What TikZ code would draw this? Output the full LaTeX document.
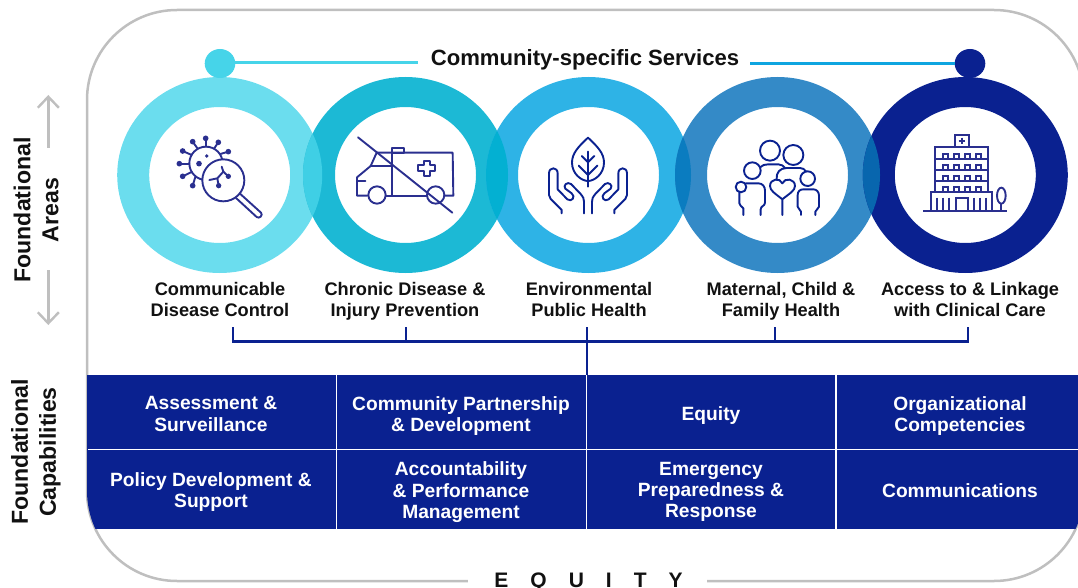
\documentclass[tikz,border=0pt]{standalone}
\usepackage{fontspec}
\setmainfont{Liberation Sans}
\usetikzlibrary{arrows.meta}
\definecolor{navy}{HTML}{0A2190}
\definecolor{icona}{HTML}{2A2F8F}
\definecolor{cA}{HTML}{6BDDEE}
\definecolor{cB}{HTML}{1CB9D5}
\definecolor{cC}{HTML}{2EB3E6}
\definecolor{cD}{HTML}{348AC7}
\definecolor{lAB}{HTML}{3FCFE5}
\definecolor{lBC}{HTML}{03B0D2}
\definecolor{lCD}{HTML}{0A7CC0}
\definecolor{lDE}{HTML}{0866AE}
\definecolor{frameg}{HTML}{BFBFBF}
\definecolor{dotA}{HTML}{46D4E9}
\definecolor{lineB}{HTML}{0FA5E0}
\definecolor{ink}{HTML}{111111}
\tikzset{
 x=1pt,y=-1pt,
 struts/.style={execute at begin node={\rule{0pt}{14pt}},execute at end node={\rule[-4.5pt]{0pt}{4.5pt}}},
 lab/.style={struts,font=\bfseries\fontsize{18.2}{21}\selectfont,align=center,text=ink,inner sep=0pt},
 capb/.style={struts,font=\bfseries\fontsize{19.2}{21.3}\selectfont,align=center,text=white,inner sep=0pt},
 side/.style={font=\bfseries\fontsize{23.1}{28}\selectfont,align=center,rotate=90,text=ink,inner sep=0pt},
 ico/.style={line width=1.9pt,line cap=round,line join=round},
 tree/.style={navy,line width=2.3pt},
 sidearrow/.style={frameg,line width=2.4pt,-{Straight Barb[length=11pt,width=21pt,line width=2.4pt]}},
}
\newcommand{\ringat}[3]{\fill[#3,even odd rule] (#1,#2) ellipse [x radius=102.5,y radius=98] (#1,#2) ellipse [x radius=70.5,y radius=68];}
\newcommand{\lensat}[3]{\begin{scope}\clip (#2,175) ellipse [x radius=102.5,y radius=98];\fill[#3] (#1,175) ellipse [x radius=102.5,y radius=98];\end{scope}}
\begin{document}
\begin{tikzpicture}
\useasboundingbox (0,0) rectangle (1078,588);
\clip (0,0) rectangle (1078,588);
% frame
\draw[frameg,line width=2.5pt,rounded corners=90pt] (87,10) rectangle (1084,581);
\fill[white] (468,575) rectangle (707,588);
% capability band
\begin{scope}
\clip[rounded corners=90pt] (87,10) rectangle (1084,581);
\fill[navy] (87,375) rectangle (1084,529);
\end{scope}
\draw[white,line width=1.4pt] (88,449.7) -- (1078,449.7);
\foreach \xx in {336.7,586.7,836}{\draw[white,line width=1.4pt] (\xx,375) -- (\xx,529);}
% rings
\ringat{219.7}{175}{cA}
\ringat{405.5}{175}{cB}
\ringat{588.5}{175}{cC}
\ringat{777.5}{175}{cD}
\ringat{965.3}{175}{navy}
\lensat{219.7}{405.5}{lAB}
\lensat{405.5}{588.5}{lBC}
\lensat{588.5}{777.5}{lCD}
\lensat{777.5}{965.3}{lDE}
% top line
\node[inner sep=0pt,text=ink,font=\bfseries\fontsize{22.1}{24}\selectfont] (svc) at (585,59.5) {Community-specific Services};
\fill[dotA] (220,63.5) ellipse [x radius=15.3,y radius=14.5];
\fill[navy] (970,63.5) ellipse [x radius=15.3,y radius=14.5];
\coordinate (dA) at (235,62.5);
\coordinate (dB) at (955,63.5);
\coordinate (lA) at (418,62.5);
\coordinate (lB) at (750,63.5);
\draw[dotA,line width=2.2pt] (dA) -- (lA);
\draw[lineB,line width=2.2pt] (lB) -- (dB);
% labels
\node[lab] (a1) at (220,301.75) {Communicable\\Disease Control};
\node[lab] (a2) at (405,301.75) {Chronic Disease \&\\Injury Prevention};
\node[lab] (a3) at (589,301.75) {Environmental\\Public Health};
\node[lab] (a4) at (781,301.75) {Maternal, Child \&\\Family Health};
\node[lab] (a5) at (970,301.75) {Access to \& Linkage\\with Clinical Care};
% tree
\coordinate (t1) at (232.7,327);
\coordinate (t2) at (406.3,327);
\coordinate (t3) at (586.7,327);
\coordinate (t4) at (775,327);
\coordinate (t5) at (968,327);
\coordinate (tb) at (586.7,375);
\draw[tree,line join=miter] (t1) -- (t1 |- 0,341.5) -- (t5 |- 0,341.5) -- (t5);
\draw[tree] (t2) -- (t2 |- 0,341.5);
\draw[tree] (t4) -- (t4 |- 0,341.5);
\draw[tree] (t3) -- (tb);
% capabilities
\node[capb] (c1) at (211,416) {Assessment \&\\Surveillance};
\node[capb] (c2) at (461,416) {Community Partnership\\\& Development};
\node[capb] (c3) at (711,415.5) {Equity};
\node[capb] (c4) at (960,416) {Organizational\\Competencies};
\node[capb] (c5) at (211,492.6) {Policy Development \&\\Support};
\node[capb] (c6) at (461,492.3) {Accountability\\\& Performance\\Management};
\node[capb] (c7) at (711,492.3) {Emergency\\Preparedness \&\\Response};
\node[capb] (c8) at (960,493) {Communications};
% side
\node[side] (s1) at (36,210) {Foundational\\Areas};
\node[side] (s2) at (36,452) {Foundational\\Capabilities};
\coordinate (u1) at (48.3,148);
\coordinate (u2) at (48.3,95);
\coordinate (v1) at (48.3,270);
\coordinate (v2) at (48.3,325);
\draw[sidearrow] (u1) -- (u2);
\draw[sidearrow] (v1) -- (v2);
% equity
\node[inner sep=0pt,font=\bfseries\fontsize{21}{22}\selectfont,text=ink] (eq) at (588.5,582.5) {E\hspace{22pt}Q\hspace{22pt}U\hspace{22pt}I\hspace{22pt}T\hspace{22pt}Y};
% icon 1
\begin{scope}[shift={(130,100)},scale=1/3,ico,icona]
\foreach \ax/\ay/\bx/\by in {227/115/227/140,265/127/252/146,295/155/271/162,188/125/203/146,158/153/185/165,148/191/178/191,158/229/185/216,188/257/196/231}{
 \draw (\bx,\by) -- (\ax,\ay);
 \fill (\ax,\ay) circle [radius=8.5];
}
\draw (228,190) circle [radius=50];
\fill (207,191) circle [radius=8.5];
\fill (230,168) circle [radius=5.5];
\draw[fill=white] (280,241) circle [radius=63];
\draw (330,281) -- (393,338) .. controls (400,345) and (388,358) .. (380,351) -- (318,294);
\draw (238,240) -- (262,235) -- (280,215) -- (275,200);
\draw (280,215) -- (295,229);
\draw (262,235) -- (266,257);
\fill (295,229) circle [radius=8];
\fill (266,257) circle [radius=8];
\end{scope}
% icon 2
\begin{scope}[shift={(130,100)},scale=1/3,ico,icona]
\draw (712,287) -- (681,287) -- (681,232) -- (722,198) -- (740,158) -- (968,158) -- (970,287) -- (943,287);
\draw (768,287) -- (891,287);
\draw (722,198) -- (787,198);
\draw (787,143) rectangle (821,158);
\draw (787,158) -- (787,287);
\draw (681,243) -- (706,243);
\draw (741,285) circle [radius=26];
\draw (917,285) circle [radius=26];
\draw (881,182) -- (899,182) -- (899,196) -- (915,196) -- (915,214) -- (899,214) -- (899,228) -- (881,228) -- (881,214) -- (865,214) -- (865,196) -- (881,196) -- cycle;
\draw (684,112) -- (967,338);
\end{scope}
% icon 3
\begin{scope}[shift={(510,100)},scale=1/3,ico,navy]
\draw (234,113) .. controls (205,140) and (186,160) .. (186,188) .. controls (186,222) and (215,243) .. (234,243) .. controls (253,243) and (282,222) .. (282,188) .. controls (282,160) and (263,140) .. (234,113) -- cycle;
\draw (234,155) -- (234,260);
\draw (215,168) -- (234,187) -- (253,168);
\draw (206,197) -- (234,225) -- (262,197);
\foreach \sx/\ox in {1/0,-1/468}{
\begin{scope}[shift={(\ox,0)},xscale=\sx]
\draw (155,340) -- (155,330) -- (122,297) .. controls (118,292) and (117,290) .. (117,285) -- (117,220) .. controls (117,200) and (143,200) .. (143,220) -- (143,268) -- (172,298) .. controls (185,308) and (198,290) .. (185,280) -- (166,266) .. controls (158,256) and (172,244) .. (183,252) -- (212,282) .. controls (220,292) and (222,296) .. (222,305) -- (222,340);
\end{scope}}
\end{scope}
% icon 4
\begin{scope}[shift={(510,100)},scale=1/3,ico,navy]
\draw (780,152) circle [radius=30];
\draw (850,165) circle [radius=30];
\draw (727,212) circle [radius=25];
\draw (893,236) circle [radius=22];
\draw (693,261) circle [radius=16];
\draw (817,298) .. controls (795,280) and (780,272) .. (780,258) .. controls (780,236) and (810,232) .. (817,250) .. controls (824,232) and (855,236) .. (855,258) .. controls (855,272) and (839,280) .. (817,298) -- (817,345);
\draw (750,202) .. controls (757,195) and (765,193) .. (775,193) -- (805,193) .. controls (815,193) and (820,198) .. (825,204);
\draw (800,237) .. controls (798,218) and (810,204) .. (830,204) -- (870,204) .. controls (878,204) and (884,208) .. (888,214);
\draw (700,345) -- (700,325) .. controls (696,318) and (688,318) .. (688,310) -- (688,277);
\draw (708,250) -- (745,250) .. controls (758,250) and (765,260) .. (765,272) -- (765,308) .. controls (765,318) and (752,318) .. (752,328) -- (752,345);
\draw (873,345) -- (873,335) .. controls (873,328) and (863,328) .. (863,320) -- (863,285) .. controls (863,274) and (870,268) .. (880,268) -- (910,268) .. controls (920,268) and (927,276) .. (927,287) -- (927,320) .. controls (927,328) and (916,328) .. (916,335) -- (916,345);
\end{scope}
% icon 5
\begin{scope}[shift={(860,100)},scale=1/3,ico,icona,line cap=butt,line join=miter,line width=1.9pt]
\draw (190,332) -- (440,332);
\draw (213,332) -- (213,276) -- (397,276) -- (397,332);
\draw (226,276) -- (226,142) -- (384,142) -- (384,276);
\draw (226,176) -- (384,176);
\draw (226,209) -- (384,209);
\draw (226,243) -- (384,243);
\draw (285,142) -- (285,104) -- (326,104) -- (326,142);
\draw (296,123) -- (315,123);
\draw (305.5,113) -- (305.5,133);
\foreach \wy in {161,194,227,261}{
 \foreach \wx in {248,281,314,347}{
  \draw (\wx,\wy+15) -- (\wx,\wy) -- (\wx+15,\wy) -- (\wx+15,\wy+15);
 }}
\foreach \cx in {230,248,267,341,360,378}{\draw (\cx,293) -- (\cx,332);}
\draw (287,332) -- (287,295) -- (323,295) -- (323,332);
\draw (424,287) ellipse [x radius=13,y radius=24];
\draw (424,311) -- (424,332);
\end{scope}
\end{tikzpicture}
\end{document}
